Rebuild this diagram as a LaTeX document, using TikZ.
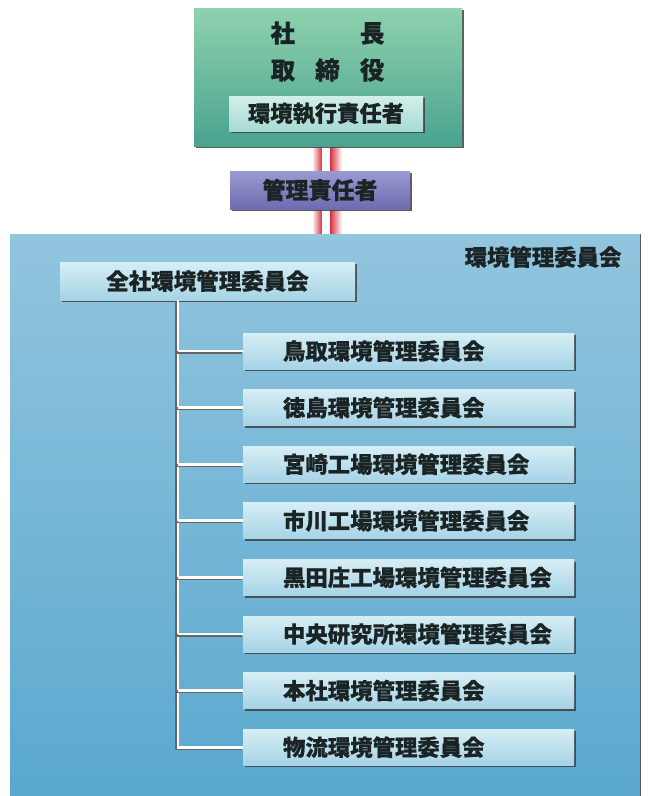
\documentclass[tikz,border=0pt]{standalone}
\usepackage{fontspec}
\newfontfamily\jp[BoldFeatures={FakeBold=0.7}]{Noto Sans CJK JP}
\usetikzlibrary{shadows}
\definecolor{txt}{HTML}{1A2424}
\definecolor{gtop}{HTML}{8ED2AE}
\definecolor{gbot}{HTML}{4AA38E}
\definecolor{itop}{HTML}{D2EFEA}
\definecolor{ibot}{HTML}{A9D9D3}
\definecolor{ptop}{HTML}{9A9AD2}
\definecolor{pbot}{HTML}{6C6CB0}
\definecolor{btop}{HTML}{92C5DE}
\definecolor{bbot}{HTML}{5AA8CF}
\definecolor{ctop}{HTML}{D6EEF5}
\definecolor{cbot}{HTML}{A6D3E6}
\definecolor{rline}{HTML}{D8303C}
\tikzset{
  x=1pt, y=-1pt,
  every node/.style={font=\jp\bfseries, text=txt},
  shad/.style={drop shadow={shadow xshift=1.5pt, shadow yshift=-2.2pt, fill=black!75, opacity=0.85}},
  greenbox/.style={rectangle, top color=gtop, bottom color=gbot, minimum width=268pt, minimum height=138pt, inner sep=0pt, shad},
  innerbox/.style={rectangle, top color=itop, bottom color=ibot, minimum width=194pt, minimum height=35pt, inner sep=0pt, font=\jp\bfseries\fontsize{22.3}{22.3}\selectfont, shad},
  purplebox/.style={rectangle, top color=ptop, bottom color=pbot, minimum width=180pt, minimum height=38pt, inner sep=0pt, font=\jp\bfseries\fontsize{23}{23}\selectfont, shad},
  bigbox/.style={rectangle, top color=btop, bottom color=bbot, minimum width=630pt, minimum height=562pt, inner sep=0pt},
  topcom/.style={rectangle, top color=ctop, bottom color=cbot, minimum width=295pt, minimum height=38pt, inner sep=0pt, font=\jp\bfseries\fontsize{22.5}{22.5}\selectfont, shad},
  subcom/.style={rectangle, top color=ctop, bottom color=cbot, minimum height=36pt, text width=291pt, inner xsep=20pt, inner ysep=0pt, align=left, font=\jp\bfseries\fontsize{22.4}{22.4}\selectfont, shad},
  bigtext/.style={font=\jp\bfseries\fontsize{24.5}{24.5}\selectfont},
  lbl/.style={font=\jp\bfseries\fontsize{22.4}{22.4}\selectfont},
  branch/.style={draw=white, line width=2.8pt, preaction={draw=black!60, line width=2.8pt, transform canvas={xshift=-1.2pt, yshift=-1.2pt}}},
}
\begin{document}
\begin{tikzpicture}
\useasboundingbox (0,0) rectangle (648,796);
\fill[white] (0,0) rectangle (648,796);

% red connectors
\foreach \ya/\yb in {146/172, 208/236}{
  \shade[left color=white, right color=rline] (312,\ya) rectangle (322,\yb);
  \fill[white] (322,\ya) rectangle (330,\yb);
  \shade[left color=rline, right color=white] (330,\ya) rectangle (342,\yb);
}

% big committee box
\node[bigbox] (big) at (325,515) {};
\draw[black!65, line width=1.2pt] (big.north east) -- (big.south east);
\node[lbl, anchor=east] (biglbl) at (625,257) {環境管理委員会};

% top green box
\node[greenbox] (top) at (328,77) {};
\node[bigtext] (shacho) at (327.5,33) {社\hspace{2.65em}長};
\node[bigtext] (tori) at (327.5,70) {取\hspace{0.82em}締\hspace{0.82em}役};
\node[innerbox] (exec) at (326,113.5) {環境執行責任者};

% purple box
\node[purplebox] (mgr) at (320,190) {管理責任者};

% company-wide committee
\node[topcom] (zensha) at (207.5,281) {全社環境管理委員会};
\coordinate (trunk) at (178,300);

% sub committees
\foreach \i/\name in {0/鳥取環境管理委員会, 1/徳島環境管理委員会, 2/宮崎工場環境管理委員会, 3/市川工場環境管理委員会, 4/黒田庄工場環境管理委員会, 5/中央研究所環境管理委員会, 6/本社環境管理委員会, 7/物流環境管理委員会}{
  \node[subcom] (c\i) at (408.5,{351+56.6*\i}) {\hspace*{20pt}\name};
}

% branches
\draw[branch] (trunk) |- (c7.west);
\foreach \i in {0,...,6}{
  \draw[branch] (trunk |- c\i.west) -- (c\i.west);
}
\end{tikzpicture}
\end{document}
